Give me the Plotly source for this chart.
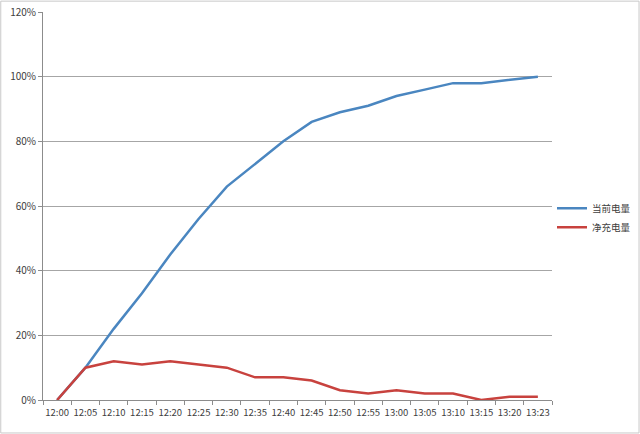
import plotly.graph_objects as go

times = ["12:00","12:05","12:10","12:15","12:20","12:25","12:30","12:35","12:40",
         "12:45","12:50","12:55","13:00","13:05","13:10","13:15","13:20","13:23"]
current = [0, 10, 22, 33, 45, 56, 66, 73, 80, 86, 89, 91, 94, 96, 98, 98, 99, 100]
net = [0, 10, 12, 11, 12, 11, 10, 7, 7, 6, 3, 2, 3, 2, 2, 0, 1, 1]
yticks = [0, 20, 40, 60, 80, 100, 120]

fig = go.Figure()
fig.add_trace(go.Scatter(x=times, y=current, mode="lines", name="当前电量",
                         line=dict(color="#4A86C0", width=2.5)))
fig.add_trace(go.Scatter(x=times, y=net, mode="lines", name="净充电量",
                         line=dict(color="#C8423E", width=2.5)))

font_family = "Noto Sans CJK SC, Liberation Sans, Arial, sans-serif"
fig.update_layout(
    width=640, height=434,
    margin=dict(l=43, r=88, t=12, b=34, autoexpand=False),
    paper_bgcolor="white", plot_bgcolor="white",
    font=dict(family=font_family, size=9, color="#404040"),
    showlegend=True,
    legend=dict(x=1.0, y=0.47, yanchor="middle", xanchor="left",
                font=dict(size=9.5, color="#404040"), bgcolor="rgba(0,0,0,0)",
                itemwidth=30, tracegroupgap=2),
    xaxis=dict(type="category", range=[-0.5, 17.5], tickson="boundaries",
               ticks="outside", ticklen=4, tickcolor="#8c8c8c", tickangle=0,
               automargin=False, ticklabelstandoff=4,
               showline=True, linecolor="#8c8c8c", linewidth=1,
               showgrid=False, tickfont=dict(size=9.5, color="#404040")),
    yaxis=dict(range=[0, 120], tickvals=yticks,
               ticktext=[f"{v}%" for v in yticks], automargin=False,
               ticks="outside", ticklen=4, tickcolor="#8c8c8c",
               showline=True, linecolor="#8c8c8c", linewidth=1,
               showgrid=True, gridcolor="#a6a6a6", gridwidth=1,
               zeroline=False, tickfont=dict(size=10, color="#404040")),
)
fig.add_shape(type="rect", xref="paper", yref="paper",
              x0=-0.083, x1=1.171, y0=-0.085, y1=1.028,
              line=dict(color="#c8c8c8", width=1), layer="below")
fig.write_html("out.html", config={"displayModeBar": False},
               post_script="document.body.style.margin='0';document.body.style.overflow='hidden';")
